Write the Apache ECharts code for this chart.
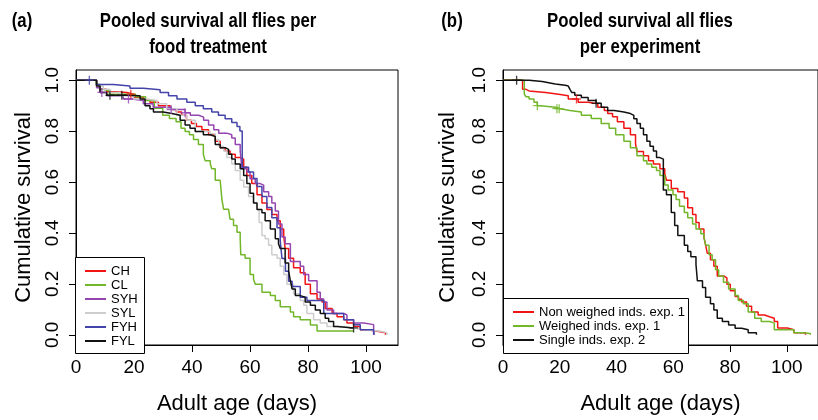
<!DOCTYPE html>
<html>
<head>
<meta charset="utf-8">
<script src="https://cdn.jsdelivr.net/npm/echarts@6/dist/echarts.min.js"></script>
<style>
  html, body { margin: 0; padding: 0; background: #fff; }
  #chart { width: 818px; height: 420px; }
</style>
</head>
<body>
<div id="chart"></div>
<script>
// Kaplan-Meier survival steps: day of each drop and survival after it.
// (a) pooled per food treatment
const chDays  = [0, 7.1, 8.3, 10.6, 13.5, 17.5, 19.8, 23.2, 25.5, 28.4, 32.4, 34.6, 36.4, 38.1, 39.8, 41.5, 43.4, 45.7, 48, 49.7, 51.4, 53.1, 54.9, 56.6, 57.8, 58.9, 60.6, 62.4, 64.1, 65.8, 67.5, 69.3, 70.4, 71.6, 72.1, 73.3, 75, 77.3, 79, 80.8, 83.1, 84.8, 85.9, 88.3, 90, 92.3, 93.4, 95.7, 98, 100.3, 103.8, 106.7];
const chSurv  = [1, 0.977, 0.964, 0.955, 0.952, 0.945, 0.932, 0.923, 0.913, 0.90, 0.888, 0.875, 0.862, 0.843, 0.83, 0.818, 0.805, 0.786, 0.76, 0.735, 0.722, 0.709, 0.696, 0.69, 0.658, 0.626, 0.594, 0.55, 0.518, 0.492, 0.473, 0.448, 0.416, 0.39, 0.339, 0.301, 0.263, 0.244, 0.199, 0.161, 0.141, 0.129, 0.103, 0.084, 0.071, 0.059, 0.046, 0.033, 0.02, 0.014, 0.008, 0.0];

const clDays  = [0, 6.9, 8.1, 9.2, 11.5, 20.5, 24, 27, 29.9, 32.2, 34.5, 36.2, 37.6, 39.1, 40.5, 42.2, 43.9, 44.5, 46.3, 46.8, 48, 49.7, 50.3, 50.9, 52.6, 53.1, 54.3, 55.5, 56.6, 56.8, 58.3, 60, 61.2, 61.8, 64.1, 67, 68.7, 70.4, 73.9, 75, 77.3, 80.8, 83.1, 95.7];
const clSurv  = [1, 0.984, 0.964, 0.958, 0.945, 0.935, 0.92, 0.89, 0.862, 0.85, 0.837, 0.811, 0.798, 0.786, 0.767, 0.747, 0.709, 0.684, 0.671, 0.652, 0.607, 0.601, 0.531, 0.493, 0.486, 0.454, 0.429, 0.403, 0.378, 0.314, 0.301, 0.237, 0.218, 0.199, 0.167, 0.154, 0.135, 0.11, 0.09, 0.071, 0.059, 0.039, 0.015, 0.015];

const syhDays = [0, 7.1, 8.3, 10.6, 16.3, 19.2, 23.2, 26.6, 32.8, 37.6, 39.4, 42.3, 44, 45.7, 47.5, 49.2, 52, 53.7, 54.9, 56.6, 57.2, 58.9, 60, 61.8, 63.5, 64.7, 66.4, 67.5, 68.7, 69.8, 71, 72.1, 73.9, 77.3, 78.5, 80.2, 83.1, 84.2, 85.4, 86.5, 88.8, 92.3, 93.4, 95.7, 99.2, 102.6, 102.8];
const syhSurv = [1, 0.97, 0.952, 0.939, 0.926, 0.92, 0.907, 0.894, 0.885, 0.872, 0.862, 0.855, 0.843, 0.824, 0.805, 0.792, 0.786, 0.773, 0.747, 0.722, 0.652, 0.639, 0.613, 0.594, 0.588, 0.562, 0.543, 0.518, 0.486, 0.435, 0.384, 0.358, 0.288, 0.269, 0.237, 0.212, 0.167, 0.141, 0.129, 0.097, 0.084, 0.078, 0.059, 0.046, 0.04, 0.02, 0.0];

const sylDays = [0, 7.1, 9.4, 11.7, 15.2, 19.8, 24.4, 27.9, 31.3, 34.8, 38.2, 41.1, 46.3, 48, 49.2, 50.9, 52, 53.7, 54.9, 56.6, 57.8, 59.5, 61.2, 62.4, 63.1, 64.1, 65.2, 66.4, 67.5, 69.3, 70.4, 71.6, 72.7, 75, 77.3, 78.5, 79.6, 81.9, 84.2, 86.5, 91.1, 95.7, 99.2, 105, 107.2];
const sylSurv = [1, 0.977, 0.964, 0.952, 0.939, 0.926, 0.92, 0.907, 0.888, 0.862, 0.843, 0.798, 0.79, 0.767, 0.741, 0.722, 0.696, 0.671, 0.645, 0.607, 0.581, 0.543, 0.518, 0.492, 0.441, 0.39, 0.377, 0.352, 0.314, 0.301, 0.269, 0.237, 0.199, 0.161, 0.135, 0.116, 0.084, 0.059, 0.046, 0.033, 0.027, 0.02, 0.014, 0.008, 0.0];

const fyhDays = [0, 7.1, 12.9, 18.6, 23.2, 29, 31.9, 34.8, 38.2, 41.1, 43.9, 46.8, 49.1, 51.4, 53.7, 55.5, 56.5, 57.3, 59.5, 61.2, 62.4, 64.1, 65.8, 67.5, 69.3, 70.4, 71, 72.2, 73.3, 74.5, 77.3, 79.6, 85.4, 92.3, 95.7, 98, 102.6];
const fyhSurv = [1, 0.983, 0.977, 0.968, 0.962, 0.952, 0.939, 0.926, 0.913, 0.90, 0.888, 0.875, 0.862, 0.849, 0.834, 0.818, 0.80, 0.658, 0.639, 0.614, 0.582, 0.543, 0.50, 0.46, 0.42, 0.37, 0.30, 0.25, 0.21, 0.19, 0.148, 0.135, 0.084, 0.059, 0.04, 0.02, 0.0];

const fylDays = [0, 7.1, 8.3, 10.6, 17.5, 22.1, 23.8, 25.5, 26.7, 30.1, 33, 35.9, 37.6, 39.3, 41.1, 43.9, 46.3, 48, 49.7, 51.4, 52.6, 53.7, 54.9, 56.6, 57.8, 58.9, 60, 61.2, 62.4, 64.1, 65.2, 67, 68.7, 69.8, 70.4, 72.1, 73.3, 73.9, 74.5, 75.6, 77.3, 79, 80.8, 82.5, 84.2, 85.9, 87.1, 88.8, 90, 95.7];
const fylSurv = [1, 0.977, 0.952, 0.941, 0.939, 0.926, 0.90, 0.888, 0.875, 0.869, 0.862, 0.843, 0.824, 0.811, 0.798, 0.786, 0.779, 0.747, 0.735, 0.728, 0.709, 0.69, 0.671, 0.652, 0.626, 0.594, 0.556, 0.518, 0.492, 0.479, 0.448, 0.416, 0.377, 0.358, 0.339, 0.282, 0.25, 0.212, 0.18, 0.154, 0.148, 0.129, 0.116, 0.097, 0.084, 0.065, 0.052, 0.033, 0.027, 0.027];

// (b) pooled per experiment
const nonDays = [0, 6.9, 8.1, 9.2, 15, 19.6, 23, 26.5, 30, 33.4, 35.7, 36.9, 38.6, 40.3, 42.6, 44.9, 46.7, 47.2, 49.5, 51.3, 53, 55.3, 57, 57.6, 59.3, 61.6, 63.9, 65.1, 66.8, 68, 69.1, 70.8, 71.4, 72, 73.1, 74.3, 75.5, 77.8, 78.9, 80.1, 81.8, 83, 84.1, 85.8, 87.6, 89.9, 92.2, 93.9, 95.6, 96.8, 100.2, 102.5, 106.6];
const nonSurv = [1, 0.964, 0.958, 0.952, 0.945, 0.939, 0.926, 0.913, 0.907, 0.894, 0.881, 0.869, 0.856, 0.837, 0.811, 0.786, 0.75, 0.72, 0.703, 0.684, 0.671, 0.652, 0.633, 0.607, 0.575, 0.562, 0.537, 0.499, 0.473, 0.441, 0.416, 0.384, 0.352, 0.32, 0.295, 0.269, 0.231, 0.224, 0.199, 0.173, 0.15, 0.14, 0.129, 0.112, 0.09, 0.078, 0.071, 0.065, 0.052, 0.027, 0.02, 0.008, 0.0];

const weiDays = [0, 7.5, 8.1, 9.2, 10.9, 12.1, 13.2, 18.4, 20.2, 23.6, 27.6, 31.1, 34.6, 37.4, 39.7, 42.6, 44.9, 47.2, 49.5, 50.7, 52.4, 54.1, 55.3, 57, 58.2, 59.9, 61, 62.2, 63.9, 65.1, 66.8, 68, 69.7, 70.8, 71.4, 72.6, 73.7, 74.9, 76, 77.7, 79.5, 81.8, 82.9, 84.7, 86.4, 88.7, 91, 93.9, 95.6, 102.5, 105.9, 108.3];
const weiSurv = [1, 0.945, 0.935, 0.926, 0.913, 0.9, 0.894, 0.888, 0.881, 0.875, 0.862, 0.85, 0.83, 0.811, 0.786, 0.76, 0.735, 0.703, 0.684, 0.671, 0.658, 0.645, 0.626, 0.588, 0.569, 0.55, 0.531, 0.505, 0.48, 0.46, 0.435, 0.416, 0.397, 0.384, 0.352, 0.314, 0.295, 0.256, 0.231, 0.206, 0.18, 0.154, 0.135, 0.122, 0.09, 0.065, 0.052, 0.046, 0.02, 0.008, 0.005, 0.0];

const sinDays = [0, 9.2, 13.8, 16.1, 18.4, 21.9, 23, 23.6, 24.2, 25.3, 27.6, 30, 32.8, 34.6, 36.9, 39.2, 42.6, 44.9, 46.1, 47.2, 48.4, 49.5, 50.7, 51.8, 53, 54.1, 55.3, 56.5, 57.6, 59.3, 60.5, 61.6, 63.9, 65.1, 66.2, 68, 68.5, 70.3, 71.4, 73.1, 74.3, 75.5, 77.3, 79.5, 81.8, 84.1, 86.4, 89.3];
const sinSurv = [1, 0.995, 0.99, 0.985, 0.98, 0.977, 0.972, 0.964, 0.952, 0.941, 0.932, 0.92, 0.909, 0.894, 0.881, 0.875, 0.869, 0.862, 0.849, 0.83, 0.811, 0.786, 0.76, 0.741, 0.722, 0.696, 0.69, 0.569, 0.55, 0.48, 0.429, 0.39, 0.352, 0.327, 0.307, 0.276, 0.212, 0.186, 0.148, 0.122, 0.097, 0.065, 0.052, 0.039, 0.026, 0.02, 0.008, 0.0];

// censored individuals (day, survival) drawn as "+"
const fyhCens = [[4.6, 1.0]];
const fylCens = [[11.7, 0.941], [15.8, 0.941], [95.7, 0.027]];
const chCens  = [[18.9, 0.945]];
const syhCens = [[8.9, 0.952], [18.1, 0.926], [32.8, 0.885], [37.6, 0.872]];
const sinCens = [[4.8, 1.0], [32.8, 0.909]];
const nonCens = [[25.9, 0.926]];
const weiCens = [[12.1, 0.9], [19.0, 0.888], [19.8, 0.888]];

const xTicks = [0, 20, 40, 60, 80, 100];
const yTicks = [0, 0.2, 0.4, 0.6, 0.8, 1.0];

const panelA = [
  { name: 'CH',  days: chDays,  surv: chSurv,  cens: chCens,  color: '#f01414' },
  { name: 'CL',  days: clDays,  surv: clSurv,  cens: [],      color: '#72b62a' },
  { name: 'SYH', days: syhDays, surv: syhSurv, cens: syhCens, color: '#9545b0' },
  { name: 'SYL', days: sylDays, surv: sylSurv, cens: [],      color: '#cdcdcd' },
  { name: 'FYH', days: fyhDays, surv: fyhSurv, cens: fyhCens, color: '#4444aa' },
  { name: 'FYL', days: fylDays, surv: fylSurv, cens: fylCens, color: '#111111' }
];
const panelB = [
  { name: 'Non weighed inds. exp. 1', days: nonDays, surv: nonSurv, cens: nonCens, color: '#f01414' },
  { name: 'Weighed inds. exp. 1',     days: weiDays, surv: weiSurv, cens: weiCens, color: '#72b62a' },
  { name: 'Single inds. exp. 2',      days: sinDays, surv: sinSurv, cens: sinCens, color: '#111111' }
];

const FONT = '"Liberation Sans", Arial, sans-serif';
const TITLE_FONT = 'bold 21px "Liberation Sans", Arial, sans-serif';
const PLUS = 'path://M4,0h1.4v4h4v1.4h-4v4h-1.4v-4h-4v-1.4h4z';

function zip(d, s) { return d.map((x, i) => [x, s[i]]); }

const series = [];
function addPanel(list, idx) {
  list.forEach(g => {
    series.push({
      name: g.name, type: 'line', step: 'end',
      xAxisIndex: idx, yAxisIndex: idx,
      data: zip(g.days, g.surv),
      showSymbol: false, symbol: 'none',
      lineStyle: { color: g.color, width: 1.5 },
      itemStyle: { color: g.color },
      emphasis: { disabled: true },
      z: 3
    });
    if (g.cens.length) {
      series.push({
        name: g.name, type: 'scatter',
        xAxisIndex: idx, yAxisIndex: idx,
        data: g.cens, symbol: PLUS, symbolSize: 9,
        itemStyle: { color: g.color },
        emphasis: { disabled: true },
        z: 4
      });
    }
  });
}
addPanel(panelA, 0);
addPanel(panelB, 1);

function xAxisFor(idx) {
  return {
    type: 'value', gridIndex: idx, min: 0, max: 111,
    name: 'Adult age (days)', nameLocation: 'middle', nameGap: 48,
    nameTextStyle: { fontFamily: FONT, fontSize: 22, color: '#000' },
    axisLine: { show: true, onZero: false, lineStyle: { color: '#000', width: 1 } },
    axisTick: { show: true, customValues: xTicks, length: 7, lineStyle: { color: '#000' } },
    axisLabel: { customValues: xTicks, margin: 13, fontFamily: FONT, fontSize: 19, color: '#000' },
    splitLine: { show: false }
  };
}
function yAxisFor(idx, gap) {
  return {
    type: 'value', gridIndex: idx, min: -0.04, max: 1.04,
    name: 'Cumulative survival', nameLocation: 'middle', nameGap: gap, nameRotate: 90,
    nameTextStyle: { fontFamily: FONT, fontSize: 22, color: '#000' },
    axisLine: { show: true, onZero: false, lineStyle: { color: '#000', width: 1 } },
    axisTick: { show: true, customValues: yTicks, length: 7, lineStyle: { color: '#000' } },
    axisLabel: {
      customValues: yTicks, rotate: 90, margin: 14,
      formatter: v => v.toFixed(1),
      fontFamily: FONT, fontSize: 19, color: '#000'
    },
    splitLine: { show: false }
  };
}

// condensed bold heading text, centred on (x, y)
function heading(text, x, y) {
  return {
    type: 'text', x: x, y: y, scaleX: 0.8,
    style: { text: text, font: TITLE_FONT, fill: '#000', align: 'center', verticalAlign: 'middle' }
  };
}

const legendText = { fontFamily: FONT, fontSize: 13, color: '#000', lineHeight: 14 };

const chart = echarts.init(document.getElementById('chart'), null, { renderer: 'canvas' });
chart.setOption({
  animation: false,
  backgroundColor: '#fff',
  grid: [
    { left: 76, top: 70, width: 322, height: 283, show: true, borderColor: '#000', borderWidth: 1, backgroundColor: 'transparent' },
    { left: 503, top: 70, width: 322, height: 283, show: true, borderColor: '#000', borderWidth: 1, backgroundColor: 'transparent' }
  ],
  xAxis: [xAxisFor(0), xAxisFor(1)],
  yAxis: [yAxisFor(0, 41), yAxisFor(1, 44)],
  legend: [
    {
      data: panelA.map(g => g.name), orient: 'vertical',
      left: 76, top: 257, padding: [7, 0, 0, 9], itemGap: 0,
      itemWidth: 21, itemHeight: 2, icon: 'rect',
      textStyle: legendText, selectedMode: false, z: 10
    },
    {
      data: panelB.map(g => g.name), orient: 'vertical',
      left: 503, top: 298, padding: [7, 0, 0, 10], itemGap: 0,
      itemWidth: 21, itemHeight: 2, icon: 'rect',
      textStyle: legendText, selectedMode: false, z: 10
    }
  ],
  graphic: [
    { type: 'rect', z: 5, shape: { x: 75.5, y: 257.5, width: 69, height: 96 },
      style: { fill: '#fff', stroke: '#000', lineWidth: 1 } },
    { type: 'rect', z: 5, shape: { x: 503.5, y: 298.5, width: 185, height: 55 },
      style: { fill: '#fff', stroke: '#000', lineWidth: 1 } },
    heading('(a)', 22, 21),
    heading('(b)', 452, 21),
    heading('Pooled survival all flies per', 208, 21),
    heading('food treatment', 208, 47),
    heading('Pooled survival all flies', 640, 21),
    heading('per experiment', 640, 47)
  ],
  series: series
});
</script>
</body>
</html>
